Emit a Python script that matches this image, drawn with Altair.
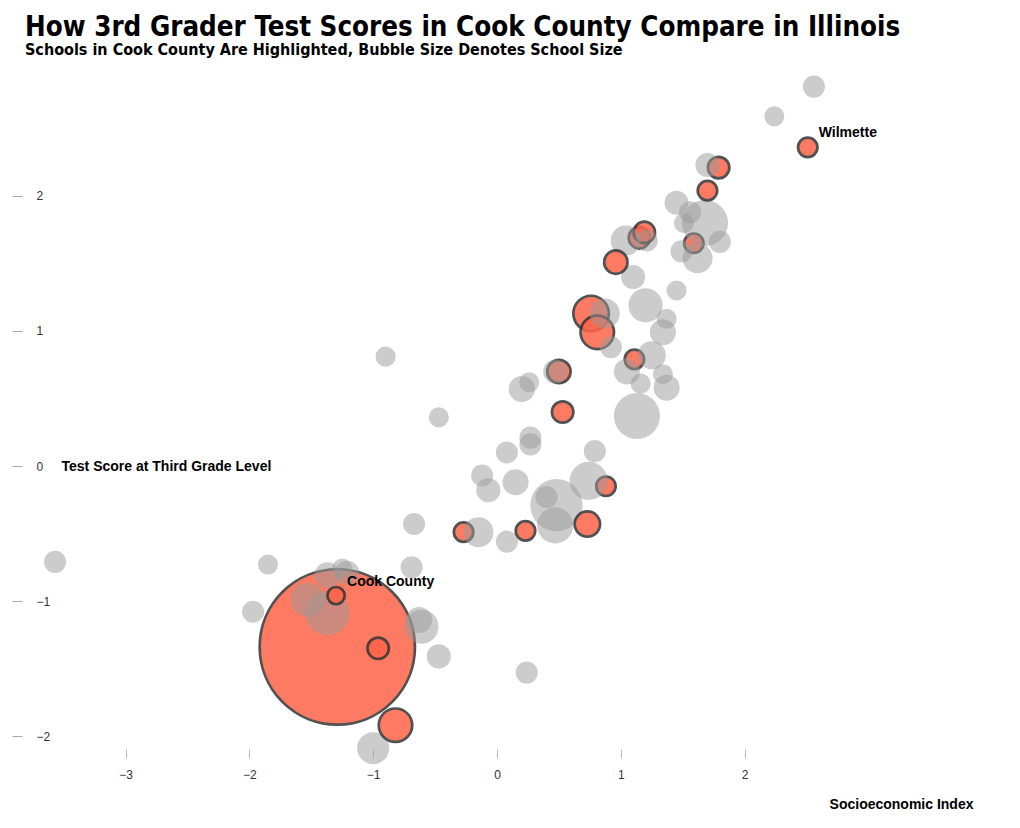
import altair as alt
import pandas as pd

# ---- data (draw order = list order) ----
# 11 Cook County schools drawn beneath the others, 58 other Illinois schools, 9 Cook County schools on top
n_under = 11
n_gray = 58
n_top = 9

ses = [-1.29, 1.15, 1.19, 1.79, 1.59, 0.76, 0.81, 1.11, 0.50, 0.88, -0.27,
       2.56, 2.24, 1.70, 1.45, 1.56, 1.68, 1.51, 1.80, 1.49, 1.62, 1.04, 1.21, 1.10, 1.45, 1.20, 0.87,
       0.92, 1.37, 1.34, 1.25, 1.05, 1.16, 1.34, 1.37, 1.13, 0.47, -0.90, 0.20, 0.26, -0.47, 0.27, 0.27,
       0.08, 0.79, -0.12, -0.07, 0.15, 0.74, 0.48, 0.40, 0.47, -0.67, -0.15, 0.08, -0.69, -3.57, -1.85,
       -1.97, -1.37, -1.25, -1.21, -1.53, -1.37, -0.61, -0.63, -0.47, 0.24, -1.00,
       2.51, 1.70, 0.96, 0.53, 0.73, 0.23, -0.96, -0.82, -1.30]
score = [-1.34, 1.69, 1.73, 2.21, 1.65, 1.13, 0.99, 0.79, 0.70, -0.15, -0.49,
         2.81, 2.59, 2.23, 1.95, 1.88, 1.80, 1.80, 1.66, 1.59, 1.54, 1.67, 1.67, 1.40, 1.30, 1.19, 1.13,
         0.88, 1.09, 0.99, 0.82, 0.70, 0.61, 0.68, 0.58, 0.37, 0.70, 0.81, 0.57, 0.62, 0.36, 0.21, 0.16,
         0.10, 0.11, -0.07, -0.18, -0.12, -0.11, -0.29, -0.23, -0.44, -0.43, -0.49, -0.56, -0.75, -0.71, -0.73,
         -1.08, -0.81, -0.76, -0.79, -0.99, -1.09, -1.19, -1.14, -1.41, -1.53, -2.09,
         2.36, 2.04, 1.51, 0.40, -0.43, -0.48, -1.35, -1.92, -0.96]
enrollment = [30000, 570, 570, 570, 470, 1560, 1390, 470, 680, 470, 470,
              605, 500, 720, 720, 605, 2645, 500, 605, 605, 1125, 1125, 605, 720, 500, 1445, 1125,
              605, 500, 845, 980, 845, 500, 500, 845, 2645, 720, 500, 845, 500, 500, 605, 605,
              605, 605, 605, 720, 845, 1805, 3380, 605, 1620, 605, 1125, 605, 605, 605, 500,
              605, 845, 500, 720, 1445, 2420, 1445, 845, 720, 605, 1280,
              470, 470, 680, 570, 800, 470, 570, 1390, 370]
top_labels = ["Wilmette", "", "", "", "", "", "", "", "Cook County"]

labels = [""] * (n_under + n_gray) + top_labels
in_cook = [True] * n_under + [False] * n_gray + [True] * n_top

rows = []
for i in range(len(ses)):
    c = in_cook[i]
    rows.append({
        "ses": ses[i], "score": score[i], "enrollment": enrollment[i],
        "label": labels[i], "z": i,
        "fill": "#ff6347" if c else "#999999",
        "op": 0.85 if c else 0.5,
        "sw": 2.7 if c else 0.0,
    })
df = pd.DataFrame(rows)

AX_FONT = "Liberation Sans"
TITLE_FONT = "Liberation Sans Narrow, DejaVu Sans Condensed, Roboto Condensed, Arial Narrow, sans-serif"

x_enc = alt.X("ses:Q",
              scale=alt.Scale(domain=[-3.837, 3.845], nice=False, zero=False),
              axis=alt.Axis(values=[-3, -2, -1, 0, 1, 2], format="d", domain=False, grid=False,
                            tickSize=9, tickColor="#bbbbbb", labelColor="#333333",
                            labelFont=AX_FONT, labelFontSize=12, labelPadding=11,
                            title="Socioeconomic Index", titleX=951, titleY=55,
                            titleAlign="right", titleBaseline="middle", titleAngle=0,
                            titleFont=AX_FONT, titleFontSize=14, titleFontWeight="bold",
                            titleColor="#000000"))
y_enc = alt.Y("score:Q",
              scale=alt.Scale(domain=[-2.096, 2.933], nice=False, zero=False),
              axis=alt.Axis(values=[-2, -1, 0, 1, 2], format="d", domain=False, grid=False,
                            tickSize=10, tickColor="#aaaaaa", labelColor="#333333",
                            labelFont=AX_FONT, labelFontSize=12, labelPadding=-24,
                            labelAlign="left", labelBaseline="middle",
                            title="Test Score at Third Grade Level", titleX=39, titleY=396,
                            titleAlign="left", titleBaseline="middle", titleAngle=0,
                            titleFont=AX_FONT, titleFontSize=14, titleFontWeight="bold",
                            titleColor="#000000"))

points = alt.Chart(df).mark_circle(stroke="#333333").encode(
    x=x_enc,
    y=y_enc,
    size=alt.Size("enrollment:Q", scale=alt.Scale(domain=[0, 30000], range=[0, 24115]), legend=None),
    color=alt.Color("fill:N", scale=None),
    opacity=alt.Opacity("op:Q", scale=None),
    strokeWidth=alt.StrokeWidth("sw:Q", scale=None),
    order=alt.Order("z:Q"),
)

texts = alt.Chart(df).transform_filter(alt.datum.label != "").mark_text(
    align="left", baseline="alphabetic", dx=11, dy=-10,
    font=AX_FONT, fontSize=14, fontWeight="bold", color="#000000"
).encode(x="ses:Q", y="score:Q", text="label:N")

chart = alt.layer(points, texts).properties(
    width=951, height=679,
    padding={"left": 14, "top": 62, "right": 30, "bottom": 70},
    autosize=alt.AutoSizeParams(type="none"),
    title=alt.TitleParams(
        text="How 3rd Grader Test Scores in Cook County Compare in Illinois",
        subtitle="Schools in Cook County Are Highlighted, Bubble Size Denotes School Size",
        anchor="start", frame="group", dx=3, offset=12,
        font=TITLE_FONT, fontSize=27.5, fontWeight="bold", color="#000000",
        subtitleFont=TITLE_FONT, subtitleFontSize=16, subtitleFontWeight="bold",
        subtitleColor="#000000", subtitlePadding=1,
    ),
).configure_view(stroke=None)

chart.save("out.html", embed_options={"renderer": "svg", "actions": False})
